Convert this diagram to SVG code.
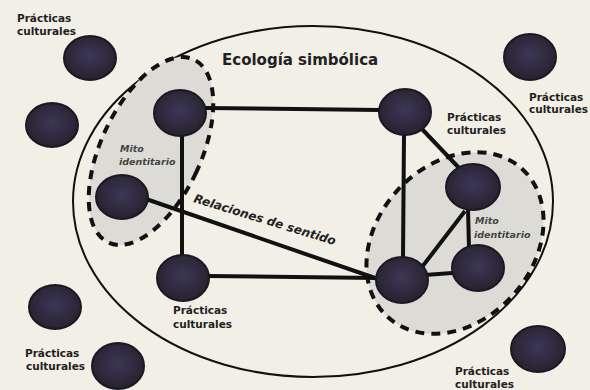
<svg xmlns="http://www.w3.org/2000/svg" width="590" height="390" viewBox="0 0 590 390">
<defs>
<radialGradient id="ng" cx="50%" cy="45%" r="55%">
<stop offset="0" stop-color="#3d3756"/>
<stop offset="1" stop-color="#26222f"/>
</radialGradient>
<style>
.node{fill:url(#ng);stroke:#1a1820;stroke-width:2}
.lbl{font-family:"DejaVu Sans",sans-serif;font-weight:bold;font-size:10.5px;fill:#222}
.mito{font-family:"DejaVu Sans",sans-serif;font-weight:bold;font-style:italic;font-size:9.5px;fill:#444}
.rel{font-family:"DejaVu Sans",sans-serif;font-weight:bold;font-style:italic;font-size:12px;fill:#222}
.title{font-family:"DejaVu Sans",sans-serif;font-weight:bold;font-size:15px;fill:#222}
.con{stroke:#111;stroke-width:4;fill:none;stroke-linecap:butt}
.niche{fill:#dcdbd5;stroke:#111;stroke-width:4;stroke-dasharray:9 7}
</style>
</defs>
<rect x="0" y="0" width="590" height="390" fill="#f2efe7"/>

<g id="ecologia">
<ellipse cx="313" cy="201.5" rx="240" ry="175.5" fill="none" stroke="#111" stroke-width="2"/>
<text class="title" x="222" y="65">Ecología simbólica</text>
</g>

<g id="nicho-izq">
<ellipse class="niche" cx="151" cy="151" rx="50" ry="101" transform="rotate(25 151 151)"/>
<text class="mito" x="120" y="152">Mito</text>
<text class="mito" x="119" y="165">identitario</text>
</g>

<g id="nicho-der">
<ellipse class="niche" cx="455" cy="243" rx="100" ry="78" transform="rotate(-48 455 243)"/>
<text class="mito" x="475" y="224">Mito</text>
<text class="mito" x="474" y="238">identitario</text>
</g>

<g id="connectors">
<line class="con" x1="205" y1="108" x2="380" y2="110"/>
<line class="con" x1="182" y1="135" x2="182" y2="256"/>
<line class="con" x1="208" y1="276" x2="377" y2="278"/>
<line class="con" x1="146" y1="199" x2="378" y2="279"/>
<line class="con" x1="404" y1="134" x2="403" y2="258"/>
<line class="con" x1="421" y1="128" x2="460" y2="169"/>
<line class="con" x1="465" y1="211" x2="422" y2="267"/>
<line class="con" x1="468" y1="209" x2="469" y2="248"/>
<line class="con" x1="425" y1="275" x2="452" y2="273"/>
<text class="rel" x="193" y="202" transform="rotate(17 193 202)">Relaciones de sentido</text>
</g>

<g id="pc-out-1"><ellipse class="node" cx="90" cy="58" rx="26" ry="22"/><text class="lbl" x="17" y="22">Prácticas</text><text class="lbl" x="17" y="35">culturales</text></g>
<g id="pc-out-2"><ellipse class="node" cx="52" cy="125" rx="26" ry="22"/></g>
<g id="pc-out-3"><ellipse class="node" cx="530" cy="57" rx="26" ry="23"/><text class="lbl" x="529" y="101">Prácticas</text><text class="lbl" x="529" y="113">culturales</text></g>
<g id="pc-out-4"><ellipse class="node" cx="55" cy="307" rx="26" ry="22"/></g>
<g id="pc-out-5"><ellipse class="node" cx="118" cy="366" rx="26" ry="23"/><text class="lbl" x="25" y="357">Prácticas</text><text class="lbl" x="26" y="370">culturales</text></g>
<g id="pc-out-6"><ellipse class="node" cx="538" cy="349" rx="27" ry="23"/><text class="lbl" x="455" y="375">Prácticas</text><text class="lbl" x="455" y="388">culturales</text></g>

<g id="n1"><ellipse class="node" cx="180" cy="113" rx="26" ry="23"/></g>
<g id="n2"><ellipse class="node" cx="122" cy="197" rx="26" ry="22"/></g>
<g id="n3"><ellipse class="node" cx="183" cy="278" rx="26" ry="23"/><text class="lbl" x="173" y="314">Prácticas</text><text class="lbl" x="173" y="328">culturales</text></g>
<g id="n4"><ellipse class="node" cx="405" cy="112" rx="26" ry="23"/><text class="lbl" x="447" y="121">Prácticas</text><text class="lbl" x="447" y="134">culturales</text></g>
<g id="n5"><ellipse class="node" cx="473" cy="187" rx="27" ry="23"/></g>
<g id="n6"><ellipse class="node" cx="402" cy="280" rx="26" ry="23"/></g>
<g id="n7"><ellipse class="node" cx="478" cy="268" rx="26" ry="23"/></g>
</svg>
